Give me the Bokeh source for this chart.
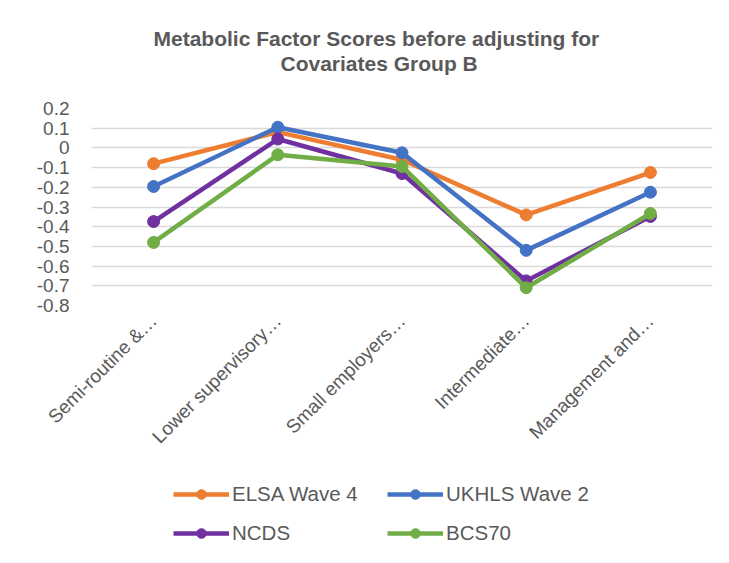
import math
from bokeh.plotting import figure
from bokeh.layouts import column
from bokeh.models import ColumnDataSource, Range1d, FixedTicker, Legend, LegendItem, Title
from bokeh.embed import file_html
from bokeh.resources import INLINE

# ---- data ----
categories = ["Semi-routine &\u2026", "Lower supervisory\u2026", "Small employers\u2026",
              "Intermediate\u2026", "Management and\u2026"]
elsa_wave4 = [-0.08, 0.08, -0.06, -0.34, -0.125]
ukhls_wave2 = [-0.196, 0.105, -0.025, -0.52, -0.225]
ncds = [-0.374, 0.045, -0.13, -0.675, -0.348]
bcs70 = [-0.48, -0.035, -0.094, -0.71, -0.333]
series_names = ["ELSA Wave 4", "UKHLS Wave 2", "NCDS", "BCS70"]
series_colors = ["#ED7D31", "#4472C4", "#7030A0", "#70AD47"]
y_ticks = [0.2, 0.1, 0, -0.1, -0.2, -0.3, -0.4, -0.5, -0.6, -0.7, -0.8]
y_tick_labels = ["0.2", "0.1", "0", "-0.1", "-0.2", "-0.3", "-0.4", "-0.5", "-0.6", "-0.7", "-0.8"]
title_line1 = "Metabolic Factor Scores before adjusting for"
title_line2 = "Covariates Group B"

FONT = "Liberation Sans"
GREY = "#595959"
all_series = [elsa_wave4, ukhls_wave2, ncds, bcs70]

# ---- main chart ----
p = figure(width=729, height=465, x_range=categories, y_range=Range1d(-0.8, 0.2),
           output_backend="svg", toolbar_location=None,
           min_border_left=91, min_border_right=17, min_border_top=108, min_border_bottom=160)
p.outline_line_color = None
p.background_fill_color = "white"
p.border_fill_color = "white"

# above panel stacks outward from the frame: spacer, line 2, then line 1 (p.title)
spacer = Title(text=" ", text_font_size="1px", standoff=31)
p.add_layout(spacer, "above")
t2 = Title(text=title_line2, text_font=FONT, text_font_size="21px", text_font_style="bold",
           text_color=GREY, align="left", offset=189, standoff=0)
p.add_layout(t2, "above")
p.title.text = title_line1
p.title.text_font = FONT
p.title.text_font_size = "21px"
p.title.text_font_style = "bold"
p.title.text_color = GREY
p.title.align = "left"
p.title.offset = 62
p.title.standoff = 0

p.xgrid.grid_line_color = None
p.ygrid.grid_line_color = "#D9D9D9"
p.ygrid.grid_line_width = 1.5

p.yaxis.ticker = FixedTicker(ticks=y_ticks)
p.yaxis.major_label_overrides = {t: l for t, l in zip(y_ticks, y_tick_labels)}
p.yaxis.axis_line_color = None
p.yaxis.major_tick_line_color = None
p.yaxis.minor_tick_line_color = None
p.yaxis.major_label_standoff = 16
p.yaxis.major_label_text_font = FONT
p.yaxis.major_label_text_font_size = "19px"
p.yaxis.major_label_text_color = GREY

p.xaxis.axis_line_color = None
p.xaxis.major_tick_line_color = None
p.xaxis.minor_tick_line_color = None
p.xaxis.major_label_orientation = math.pi / 4
p.xaxis.major_label_standoff = 6
p.xaxis.major_label_text_font = FONT
p.xaxis.major_label_text_font_size = "19px"
p.xaxis.major_label_text_color = GREY

for name, vals, color in zip(series_names, all_series, series_colors):
    src = ColumnDataSource(dict(x=categories, y=vals))
    p.line("x", "y", source=src, line_color=color, line_width=4.5)
    p.scatter("x", "y", source=src, size=12, fill_color=color, line_color=color)

# ---- legend strip (its frame is aligned with the chart frame by the column) ----
pl = figure(width=729, height=98, x_range=Range1d(0, 1), y_range=Range1d(10, 11),
            output_backend="svg", toolbar_location=None, x_axis_type=None, y_axis_type=None,
            min_border=0)
pl.outline_line_color = None
pl.xgrid.visible = False
pl.ygrid.visible = False
pl.border_fill_color = "white"
pl.background_fill_color = "white"

items = []
for name, vals, color in zip(series_names, all_series, series_colors):
    # legend proxies: same series values, which fall outside this strip's y range
    src = ColumnDataSource(dict(x=list(range(len(vals))), y=vals))
    l = pl.line("x", "y", source=src, line_color=color, line_width=4.5)
    s = pl.scatter("x", "y", source=src, size=11, fill_color=color, line_color=color)
    items.append(LegendItem(label=name, renderers=[l, s]))

legend = Legend(items=items, location=(82, 18), orientation="horizontal", ncols=2,
                glyph_width=56, glyph_height=24, label_standoff=3, spacing=15, label_width=140,
                label_text_font=FONT, label_text_font_size="20.5px", label_text_color=GREY,
                padding=0, margin=0, border_line_color=None, background_fill_alpha=0)
pl.add_layout(legend, "center")

layout = column(p, pl, spacing=0)
open("out.html", "w").write(file_html(layout, INLINE))
